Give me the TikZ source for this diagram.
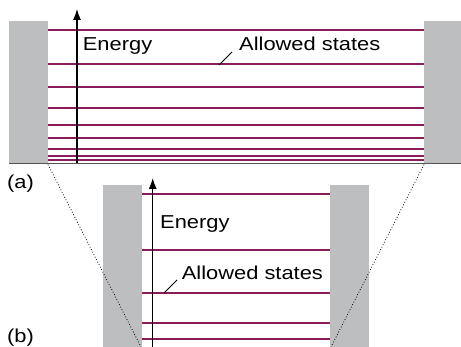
\documentclass[tikz,border=0pt]{standalone}
\usepackage{fontspec}
\newfontfamily\labfont[FakeStretch=1.17]{Liberation Sans}
\usetikzlibrary{arrows.meta}
\definecolor{wallgray}{HTML}{BDBEC0}
\definecolor{statecol}{HTML}{8A1C5C}
\definecolor{basecol}{HTML}{555555}
\tikzset{
  wall/.style={fill=wallgray, draw=none},
  state/.style={draw=statecol, line width=1.7pt},
  axisarrow/.style={draw=black, line width=1.2pt, -{Latex[length=11pt,width=8pt]}},
  leader/.style={draw=black, line width=0.9pt},
  zoomline/.style={draw=black, line width=0.8pt, dotted},
  lab/.style={inner sep=0pt, anchor=base west, font=\labfont\fontsize{18.7}{20}\selectfont},
}
\begin{document}
\begin{tikzpicture}[x=1pt, y=-1pt]
\useasboundingbox (0,0) rectangle (461,347);
% ---- panel (a)
\fill[wall] (9,21) rectangle (48,163.5);
\fill[wall] (424,21) rectangle (461,163.5);
\foreach \yy in {30,64,87,108,125,138,149,156,160}
  \draw[state] (48,\yy) -- (424,\yy);
\draw[basecol, line width=1.8pt] (9,163.5) -- (461,163.5);
\coordinate (aB) at (77,163);
\coordinate (aT) at (77,9);
\draw[axisarrow] (aB) -- (aT);
\node[lab] (aE) at (82.7,50.7) {Energy};
\node[lab] (aS) at (239,50.7) {Allowed states};
\coordinate (aL1) at (219,65);
\coordinate (aL2) at (232,52);
\draw[leader] (aL1) -- (aL2);
\node[lab] (alab) at (7,189) {(a)};
% ---- panel (b)
\fill[wall] (103,185) rectangle (142.3,347);
\fill[wall] (330,185) rectangle (369,347);
\foreach \yy in {194,250,293,323,339}
  \draw[state] (142.3,\yy) -- (330,\yy);
\coordinate (bB) at (152.7,347);
\coordinate (bT) at (152.7,178);
\draw[axisarrow] (bB) -- (bT);
\node[lab] (bE) at (160,228.3) {Energy};
\node[lab] (bS) at (181.7,280) {Allowed states};
\coordinate (bL1) at (164,293);
\coordinate (bL2) at (177,280);
\draw[leader] (bL1) -- (bL2);
\node[lab] (blab) at (7,343) {(b)};
% ---- zoom lines
\coordinate (zl1) at (48,164.5);
\coordinate (zl2) at (141,347);
\coordinate (zr1) at (424,164.5);
\coordinate (zr2) at (331,347);
\draw[zoomline] (zl1) -- (zl2);
\draw[zoomline] (zr1) -- (zr2);
\end{tikzpicture}
\end{document}
